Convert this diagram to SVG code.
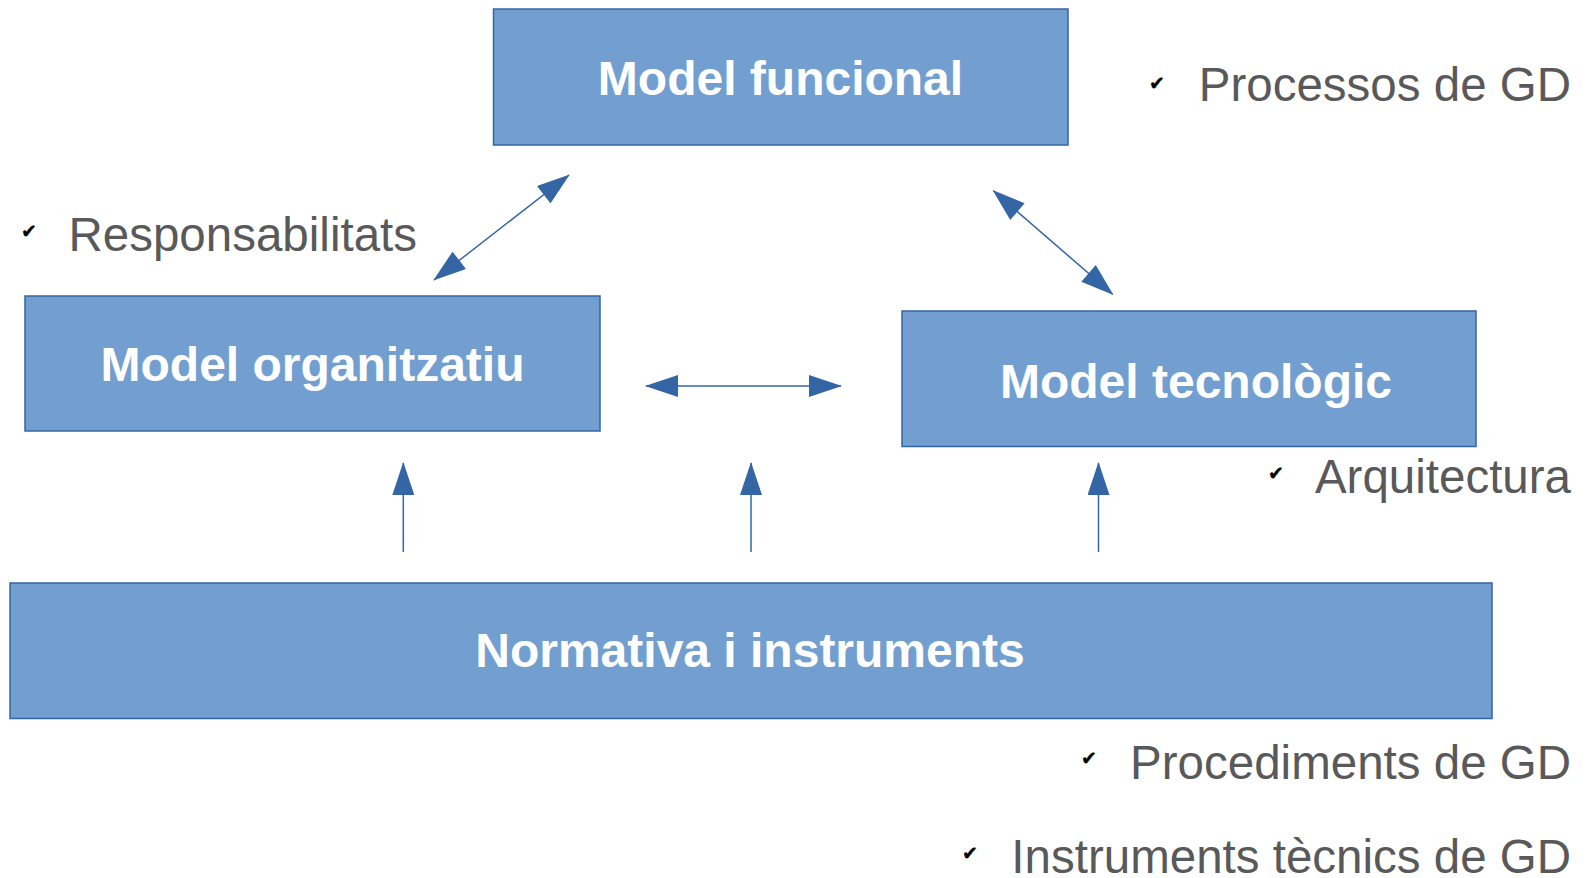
<svg xmlns="http://www.w3.org/2000/svg" width="1589" height="878" viewBox="0 0 1589 878">
<defs>
<style>
.box{fill:#729fcf;stroke:#3465a4;stroke-width:1.5}
.lbl{font-family:"Liberation Sans",Arial,sans-serif;font-weight:bold;font-size:48px;fill:#ffffff;text-anchor:middle}
.note{font-family:"Liberation Sans",Arial,sans-serif;font-size:47.5px;fill:#595959;text-anchor:end}
.chk{font-family:"DejaVu Sans",sans-serif;font-size:19px;fill:#000000;stroke:#000000;stroke-width:0.4}
.conn{stroke:#3465a4;stroke-width:1.5;fill:none}
</style>
<marker id="ah" markerUnits="userSpaceOnUse" markerWidth="34" markerHeight="22" viewBox="0 0 33 22" refX="32" refY="11" orient="auto-start-reverse">
<path d="M0,0 L33,11 L0,22 z" fill="#3465a4"/>
</marker>
</defs>
<rect width="1589" height="878" fill="#ffffff"/>
<g id="model-funcional">
<rect class="box" x="493.5" y="9" width="574.5" height="136"/>
<text class="lbl" x="780.5" y="95">Model funcional</text>
</g>
<g id="model-organitzatiu">
<rect class="box" x="25" y="296" width="575" height="135"/>
<text class="lbl" x="312.5" y="381">Model organitzatiu</text>
</g>
<g id="model-tecnologic">
<rect class="box" x="902" y="311" width="574" height="135.5"/>
<text class="lbl" x="1196" y="398">Model tecnològic</text>
</g>
<g id="normativa">
<rect class="box" x="10" y="583" width="1482" height="135.5"/>
<text class="lbl" x="750" y="667">Normativa i instruments</text>
</g>
<g id="connectors">
<line class="conn" x1="434" y1="280" x2="569" y2="175" marker-start="url(#ah)" marker-end="url(#ah)"/>
<line class="conn" x1="993.3" y1="190.7" x2="1112.7" y2="294.3" marker-start="url(#ah)" marker-end="url(#ah)"/>
<line class="conn" x1="646" y1="386" x2="841" y2="386" marker-start="url(#ah)" marker-end="url(#ah)"/>
<line class="conn" x1="403.3" y1="552" x2="403.3" y2="463" marker-end="url(#ah)"/>
<line class="conn" x1="751" y1="552" x2="751" y2="463" marker-end="url(#ah)"/>
<line class="conn" x1="1098.5" y1="552" x2="1098.5" y2="463" marker-end="url(#ah)"/>
</g>
<g id="notes">
<text class="chk" x="1149" y="90">✔</text>
<text class="note" x="1571" y="101">Processos de GD</text>
<text class="chk" x="21" y="238">✔</text>
<text class="note" x="417" y="251">Responsabilitats</text>
<text class="chk" x="1268" y="480">✔</text>
<text class="note" x="1571" y="493">Arquitectura</text>
<text class="chk" x="1081" y="765">✔</text>
<text class="note" x="1571" y="779">Procediments de GD</text>
<text class="chk" x="962" y="860">✔</text>
<text class="note" x="1571" y="873">Instruments tècnics de GD</text>
</g>
</svg>
